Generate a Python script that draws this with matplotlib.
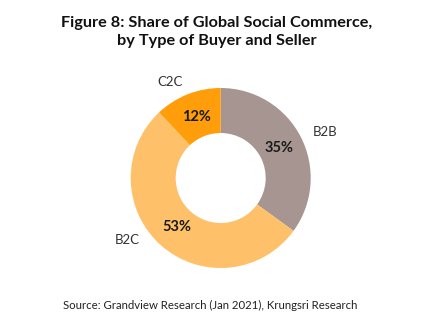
import numpy as np
import matplotlib
matplotlib.use("Agg")
import matplotlib.pyplot as plt

# data
segments = ["B2B", "B2C", "C2C"]
shares = [35, 53, 12]
colors = ["#A69591", "#FFC06A", "#FF9D0A"]

title = "Figure 8: Share of Global Social Commerce,\nby Type of Buyer and Seller"
source = "Source: Grandview Research (Jan 2021), Krungsri Research"

plt.rcParams["font.family"] = ["Lato", "DejaVu Sans"]

W, H = 435, 321
fig = plt.figure(figsize=(W / 100, H / 100), dpi=100)

# donut center (px) and radius (px)
cx, cy, R = 220.7, 178, 90
ax = fig.add_axes([(cx - R) / W, (H - cy - R) / H, 2 * R / W, 2 * R / H])

wedges, texts = ax.pie(shares, colors=colors, startangle=90, counterclock=False,
                       radius=1, wedgeprops=dict(width=0.5, edgecolor="none"))
ax.set_xlim(-1, 1)
ax.set_ylim(-1, 1)
ax.axis("off")

# percentage labels at wedge mid angles
for w, v in zip(wedges, shares):
    mid = np.deg2rad((w.theta1 + w.theta2) / 2)
    ax.text(0.73 * np.cos(mid), 0.73 * np.sin(mid), f"{v}%", ha="center", va="center",
            fontsize=10.5, fontweight="bold", color="#1a1a1a")

# category labels outside the ring
label_pos = {"B2B": (1.27, 23.9), "B2C": (1.25, 213.5), "C2C": (1.21, 117.8)}
for name in segments:
    r, a = label_pos[name]
    a = np.deg2rad(a)
    ax.text(r * np.cos(a), r * np.sin(a), name, ha="center", va="center",
            fontsize=9.5, color="#333333")

fig.text(217 / W, 1 - 32 / H, title, ha="center", va="center", fontsize=11.7,
         fontweight="bold", color="#111111", linespacing=1.35)
fig.text(210 / W, 1 - 305 / H, source, ha="center", va="center", fontsize=8.2,
         color="#222222")

fig.savefig("out.png", dpi=100)
